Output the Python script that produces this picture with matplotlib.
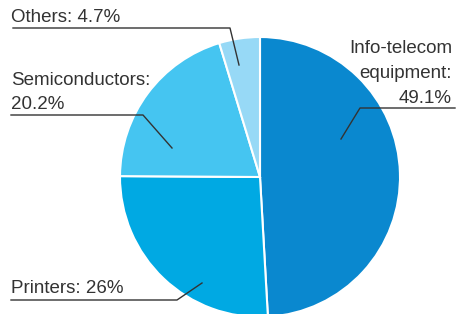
import matplotlib.pyplot as plt

labels = ["Info-telecom\nequipment:\n49.1%", "Printers: 26%", "Semiconductors:\n20.2%", "Others: 4.7%"]
values = [49.1, 26.0, 20.2, 4.7]
colors = ["#0a88cf", "#00a9e3", "#45c5f1", "#97d9f6"]

W, H = 468, 314
plt.rcParams['font.family'] = ['Liberation Sans', 'DejaVu Sans']

fig = plt.figure(figsize=(W / 100, H / 100), dpi=100)
ax = fig.add_axes([0, 0, 1, 1])

cx, cy, r = 260, 177, 140
# y axis is inverted below, so startangle -90 is the top and counterclock runs clockwise on screen
wedges, _ = ax.pie(values, colors=colors, startangle=-90, counterclock=True,
                   center=(cx, cy), radius=r, frame=True,
                   wedgeprops=dict(edgecolor='white', linewidth=1.5))
ax.set_xlim(0, W)
ax.set_ylim(H, 0)
ax.set_aspect('equal')
ax.axis('off')

txt = "#333333"
fs = 13.5
ax.text(452, 53, "Info-telecom", ha='right', va='baseline', fontsize=fs, color=txt)
ax.text(452, 78, "equipment:", ha='right', va='baseline', fontsize=fs, color=txt)
ax.text(452, 103, "49.1%", ha='right', va='baseline', fontsize=fs, color=txt)
ax.plot([455, 360, 341], [108, 108, 139], color=txt, lw=1)

ax.text(11, 293, "Printers: 26%", ha='left', va='baseline', fontsize=fs, color=txt)
ax.plot([11, 177, 202], [300, 300, 283], color=txt, lw=1)

ax.text(11, 85, "Semiconductors:", ha='left', va='baseline', fontsize=fs, color=txt)
ax.text(11, 109, "20.2%", ha='left', va='baseline', fontsize=fs, color=txt)
ax.plot([11, 143, 172], [115, 115, 148], color=txt, lw=1)

ax.text(11, 22, "Others: 4.7%", ha='left', va='baseline', fontsize=fs, color=txt)
ax.plot([13, 230, 239], [28, 28, 65], color=txt, lw=1)

fig.savefig("out.png", dpi=100)
